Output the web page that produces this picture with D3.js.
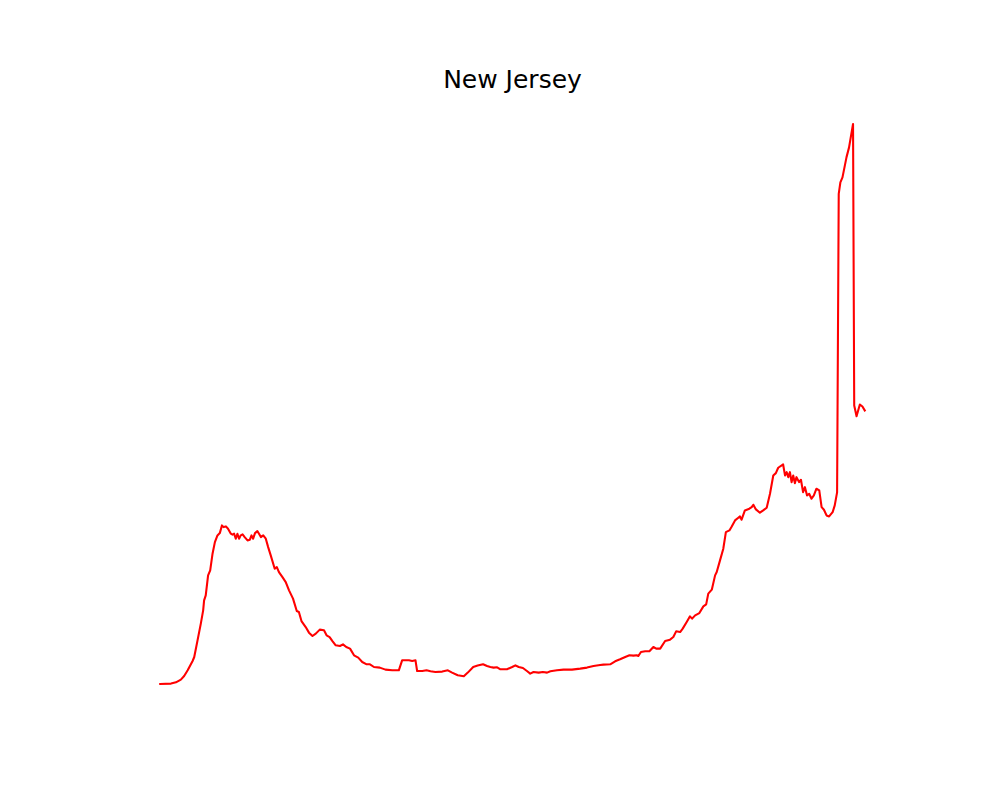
<!DOCTYPE html>
<html>
<head>
<meta charset="utf-8">
<script src="https://cdn.jsdelivr.net/npm/d3@7"></script>
<style>
  html, body { margin: 0; padding: 0; background: #fff; }
  svg { display: block; }
</style>
</head>
<body>
<svg id="chart" width="1000" height="800"></svg>
<script>
const title = "New Jersey";
const days = [0,4.6,6.7,8.8,10.2,11.7,13.8,14.5,15.9,17.3,18.3,18.7,19.4,20.4,21.3,22.3,23.3,24.4,25.4,26.3,27.0,28.0,28.9,30.1,30.8,31.5,32.2,32.9,33.6,34.3,35.1,36.0,37.2,38.2,38.9,39.6,40.4,41.4,42.1,42.9,43.9,45.0,46.0,47.1,48.8,49.7,50.6,52.1,53.5,54.9,56.6,58.2,59.1,60.2,62.0,63.4,64.9,66.3,68.0,69.8,70.9,72.2,73.4,74.8,76.6,77.9,79.3,80.9,82.6,84.4,86.1,88.0,89.4,91.1,93.6,96.0,98.9,101.7,103.1,106.0,107.4,108.8,109.5,111.7,113.5,115.2,117.3,120.2,122.6,124.4,126.8,129.4,131.1,133.4,135.3,137.6,139.3,140.7,142.1,143.6,145.0,147.8,150.0,151.4,152.8,154.6,156.3,157.7,159.1,161.3,163.1,164.9,166.3,169.1,171.9,175.5,179.0,181.9,184.7,187.5,188.9,191.8,193.9,196.0,198.2,200.0,201.7,203.1,203.8,204.9,206.7,208.5,210.2,211.4,213.1,215.2,217.3,218.7,219.9,221.6,222.7,224.4,225.8,226.7,228.0,229.8,231.5,232.7,233.6,235.1,236.5,237.2,238.6,240.0,241.1,242.6,243.6,245.0,246.4,247.1,247.8,249.2,251.1,252.1,252.8,253.9,255.6,257.0,258.5,259.9,261.3,262.4,263.4,264.9,265.5,266.3,267.0,267.7,268.4,269.1,269.8,270.5,271.2,272.3,273.1,274.0,274.8,275.7,276.6,277.6,278.6,279.7,280.9,281.9,282.9,284.0,285.1,286.6,287.5,288.5,289.2,289.9,290.8,291.8,292.5,293.6,295.3,295.8,296.8,298.2,299.3,300.3];
const cases = [3,7,20,47,83,140,233,273,440,607,740,840,890,1090,1140,1307,1423,1490,1513,1590,1573,1580,1557,1507,1497,1507,1457,1507,1457,1490,1500,1473,1440,1447,1490,1457,1513,1533,1507,1473,1490,1457,1373,1290,1157,1173,1123,1073,1023,940,857,733,723,633,573,517,483,507,547,540,490,473,433,390,383,400,373,357,290,267,223,200,200,173,167,147,140,140,240,240,233,240,133,133,140,130,123,127,140,117,90,80,117,173,187,200,183,173,167,170,150,150,173,190,173,163,133,107,123,117,123,117,130,140,147,147,157,167,183,193,197,200,230,250,273,290,287,290,283,323,330,330,373,357,357,433,447,473,530,523,557,623,680,657,690,713,780,800,907,947,1090,1123,1240,1357,1523,1540,1580,1640,1667,1680,1647,1740,1757,1773,1797,1750,1717,1740,1767,1907,2090,2113,2167,2190,2200,2090,2123,2073,2123,2023,2090,2013,2073,2023,2047,1923,1973,1890,1907,1857,1890,1957,1940,1773,1747,1690,1680,1723,1790,1920,4907,5023,5073,5190,5273,5373,5607,2790,2683,2800,2780,2740];

const W = 1000, H = 800;
const mLeft = 125, mRight = 900, mTop = 96, mBottom = 712;
const data = days.map((d, i) => ({x: d, y: cases[i]}));

function padded(ext) { const s = ext[1] - ext[0]; return [ext[0] - 0.05 * s, ext[1] + 0.05 * s]; }
const xScale = d3.scaleLinear().domain(padded(d3.extent(days))).range([mLeft, mRight]);
const yScale = d3.scaleLinear().domain(padded(d3.extent(cases))).range([mBottom, mTop]);

const svg = d3.select("#chart");
svg.append("rect").attr("width", W).attr("height", H).attr("fill", "#fff");

svg.append("path")
  .datum(data)
  .attr("fill", "none")
  .attr("stroke", "#ff0000")
  .attr("stroke-width", 2.08)
  .attr("stroke-linejoin", "round")
  .attr("stroke-linecap", "square")
  .attr("d", d3.line().x(d => xScale(d.x)).y(d => yScale(d.y)));

svg.append("text")
  .attr("x", (mLeft + mRight) / 2)
  .attr("y", 87.7)
  .attr("text-anchor", "middle")
  .attr("font-family", "DejaVu Sans, sans-serif")
  .attr("font-size", 25)
  .attr("fill", "#000")
  .text(title);
</script>
</body>
</html>
